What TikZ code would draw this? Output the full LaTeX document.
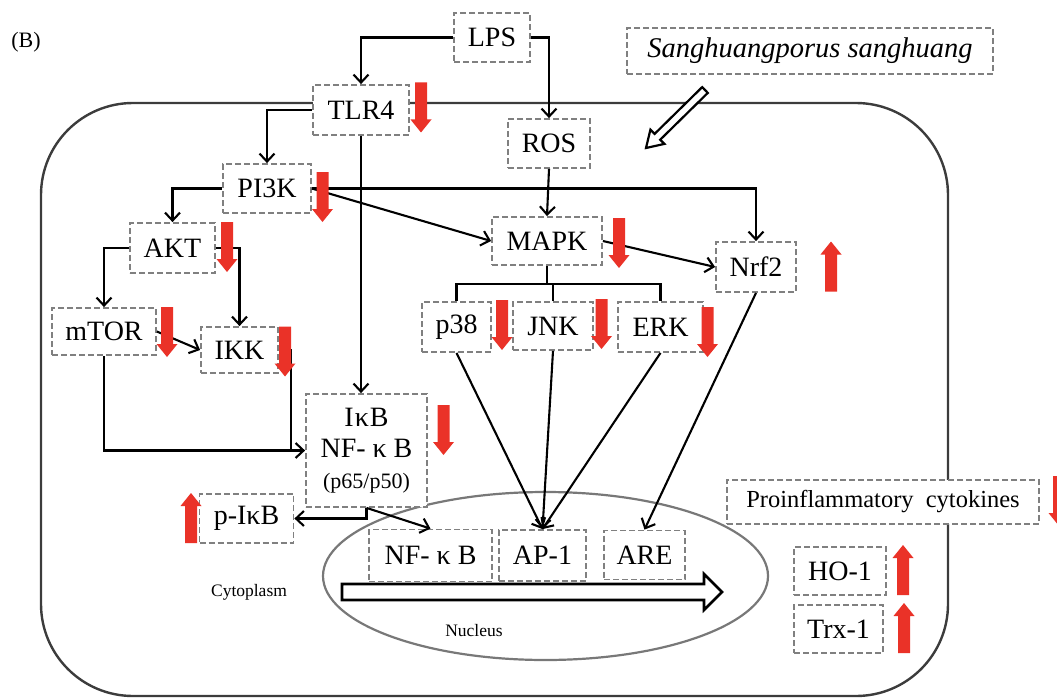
\documentclass[tikz,border=0pt]{standalone}
\usepackage{fontspec}
\setmainfont{Liberation Serif}
\usetikzlibrary{arrows.meta,calc}
\definecolor{boxgray}{RGB}{128,128,128}
\definecolor{cellgray}{RGB}{60,60,60}
\definecolor{nucgray}{RGB}{120,120,120}
\definecolor{arrred}{RGB}{234,50,40}
\begin{document}
\begin{tikzpicture}[x=1pt,y=-1pt,
  box/.style={draw=boxgray, line width=1.8pt, dash pattern=on 6pt off 3pt, fill=white, inner sep=0pt, align=center, font=\fontsize{28}{31}\selectfont},
  conn/.style={draw=black, line width=2.1pt, -{Straight Barb[length=8pt,width=15pt]}},
  plain/.style={draw=black, line width=2.1pt},
  hollow/.style={draw=black, line width=2.6pt, fill=white, line join=miter},
  downarr/.pic={\fill[arrred] (-6,-25) -- (6,-25) -- (6,12) -- (10.5,12) -- (0,25) -- (-10.5,12) -- (-6,12) -- cycle;},
  uparr/.pic={\fill[arrred] (-6,25) -- (6,25) -- (6,-12) -- (10.5,-12) -- (0,-25) -- (-10.5,-12) -- (-6,-12) -- cycle;}
]
\useasboundingbox (0,0) rectangle (1057,698);
% cell and nucleus
\draw[cellgray, line width=2.4pt, rounded corners=92pt] (41,103) rectangle (948,696);
\draw[nucgray, line width=2.2pt] (545.5,576) ellipse [x radius=222.5pt, y radius=84pt];

% labels
\node[font=\fontsize{22}{24}\selectfont] (lblB) at (26,42) {(B)};
\node[font=\fontsize{17.5}{19}\selectfont] (cyto) at (249,592) {Cytoplasm};
\node[font=\fontsize{17.5}{19}\selectfont] (nuc) at (474,631) {Nucleus};

% nodes
\node[box, minimum width=76, minimum height=49] (LPS) at (492,37.5) {LPS};
\node[box, minimum width=366, minimum height=46, font=\fontsize{28.5}{31}\selectfont\itshape] (SS) at (810,51) {Sanghuangporus sanghuang};
\node[box, minimum width=96, minimum height=50] (TLR4) at (361,110) {TLR4};
\node[box, minimum width=82, minimum height=49] (ROS) at (549,143.5) {ROS};
\node[box, minimum width=88, minimum height=49] (PI3K) at (267,188.5) {PI3K};
\node[box, minimum width=110, minimum height=48] (MAPK) at (547,241) {MAPK};
\node[box, minimum width=80, minimum height=50] (Nrf2) at (756,267) {Nrf2};
\node[box, minimum width=85, minimum height=50] (AKT) at (172.5,248) {AKT};
\node[box, minimum width=104, minimum height=47] (mTOR) at (104,331.5) {mTOR};
\node[box, minimum width=77, minimum height=46] (IKK) at (239.5,350) {IKK};
\node[box, minimum width=69, minimum height=50] (p38) at (456.5,327) {p38};
\node[box, minimum width=80, minimum height=48] (JNK) at (553,326) {JNK};
\node[box, minimum width=85, minimum height=50] (ERK) at (660.5,327) {ERK};
\node[box, minimum width=121, minimum height=113] (IkB) at (366.5,450.5) {I\kern1ptκ\kern1ptB\\NF- κ B\\{\fontsize{22}{24}\selectfont (p65/p50)}};
\node[box, minimum width=94, minimum height=49] (pIkB) at (246.5,518.5) {p-IκB};
\node[box, minimum width=123, minimum height=52] (nfkb) at (430.5,555.5) {NF- κ B};
\node[box, minimum width=87, minimum height=51] (AP1) at (542.5,555.5) {AP-1};
\node[box, minimum width=81, minimum height=49] (ARE) at (644.5,555) {ARE};
\node[box, minimum width=312, minimum height=44, font=\fontsize{24.5}{28}\selectfont] (PC) at (883,502) {Proinflammatory\hspace{6pt} cytokines};
\node[box, minimum width=92, minimum height=48] (HO1) at (840,571) {HO-1};
\node[box, minimum width=89, minimum height=48] (Trx1) at (838.5,629) {Trx-1};

% coordinates
\coordinate (join) at ($(IkB.west)+(-14,0)$);
\coordinate (br) at ($(MAPK.south)+(0,18)$);

% connectors
\draw[conn] (LPS.west) -| (TLR4.north);
\draw[conn] (LPS.east) -| (ROS.north);
\draw[conn] (TLR4.west) -| (PI3K.north);
\draw[conn] (TLR4.south) -- (TLR4.south |- IkB.north);
\draw[conn] (ROS.south) -- (MAPK.north);
\draw[conn] (PI3K.west) -| (AKT.north);
\draw[conn] (PI3K.east) -| (Nrf2.north);
\draw[conn] (PI3K.east) -- (MAPK.west);
\draw[conn] (AKT.west) -| (mTOR.north);
\draw[conn] (AKT.east) -| (IKK.north);
\draw[conn] (mTOR.east) -- (IKK.west);
\draw[conn] (mTOR.south) |- (IkB.west);
\draw[plain] (IKK.east) -| (join);
\draw[conn] (MAPK.east) -- (Nrf2.west);
\draw[plain] (MAPK.south) -- (br);
\draw[plain] (p38.north) |- (br) -| (ERK.north);
\draw[plain] (JNK.north) -- (JNK.north |- br);
\draw[conn] (p38.south) -- (AP1.north);
\draw[conn] (JNK.south) -- (AP1.north);
\draw[conn] (ERK.south) -- (AP1.north);
\draw[conn] (Nrf2.south) -- (ARE.north);
\draw[conn] (IkB.south) |- (pIkB.east);
\draw[conn] (IkB.south) -- (nfkb.north);

% hollow arrows
\draw[hollow] (342,584) -- (704,584) -- (704,574) -- (722,592) -- (704,610) -- (704,600) -- (342,600) -- cycle;
\draw[hollow, line width=2.2pt] (702.2,87.1) -- (654.6,133.9) -- (650.4,129.7) -- (646,148) -- (664.4,143.9) -- (660.2,139.7) -- (707.8,92.9) -- cycle;

% red arrows
\pic at (421,107.5) {downarr};
\pic at (322.5,197) {downarr};
\pic at (227,247) {downarr};
\pic at (167,332) {downarr};
\pic at (285,351.5) {downarr};
\pic at (619,243) {downarr};
\pic at (502,325) {downarr};
\pic at (601.5,324) {downarr};
\pic at (707.5,332) {downarr};
\pic at (443.5,430) {downarr};
\pic at (1059,501) {downarr};
\pic at (831,266.5) {uparr};
\pic at (191,518) {uparr};
\pic at (903,570) {uparr};
\pic at (904,628) {uparr};
\end{tikzpicture}
\end{document}
